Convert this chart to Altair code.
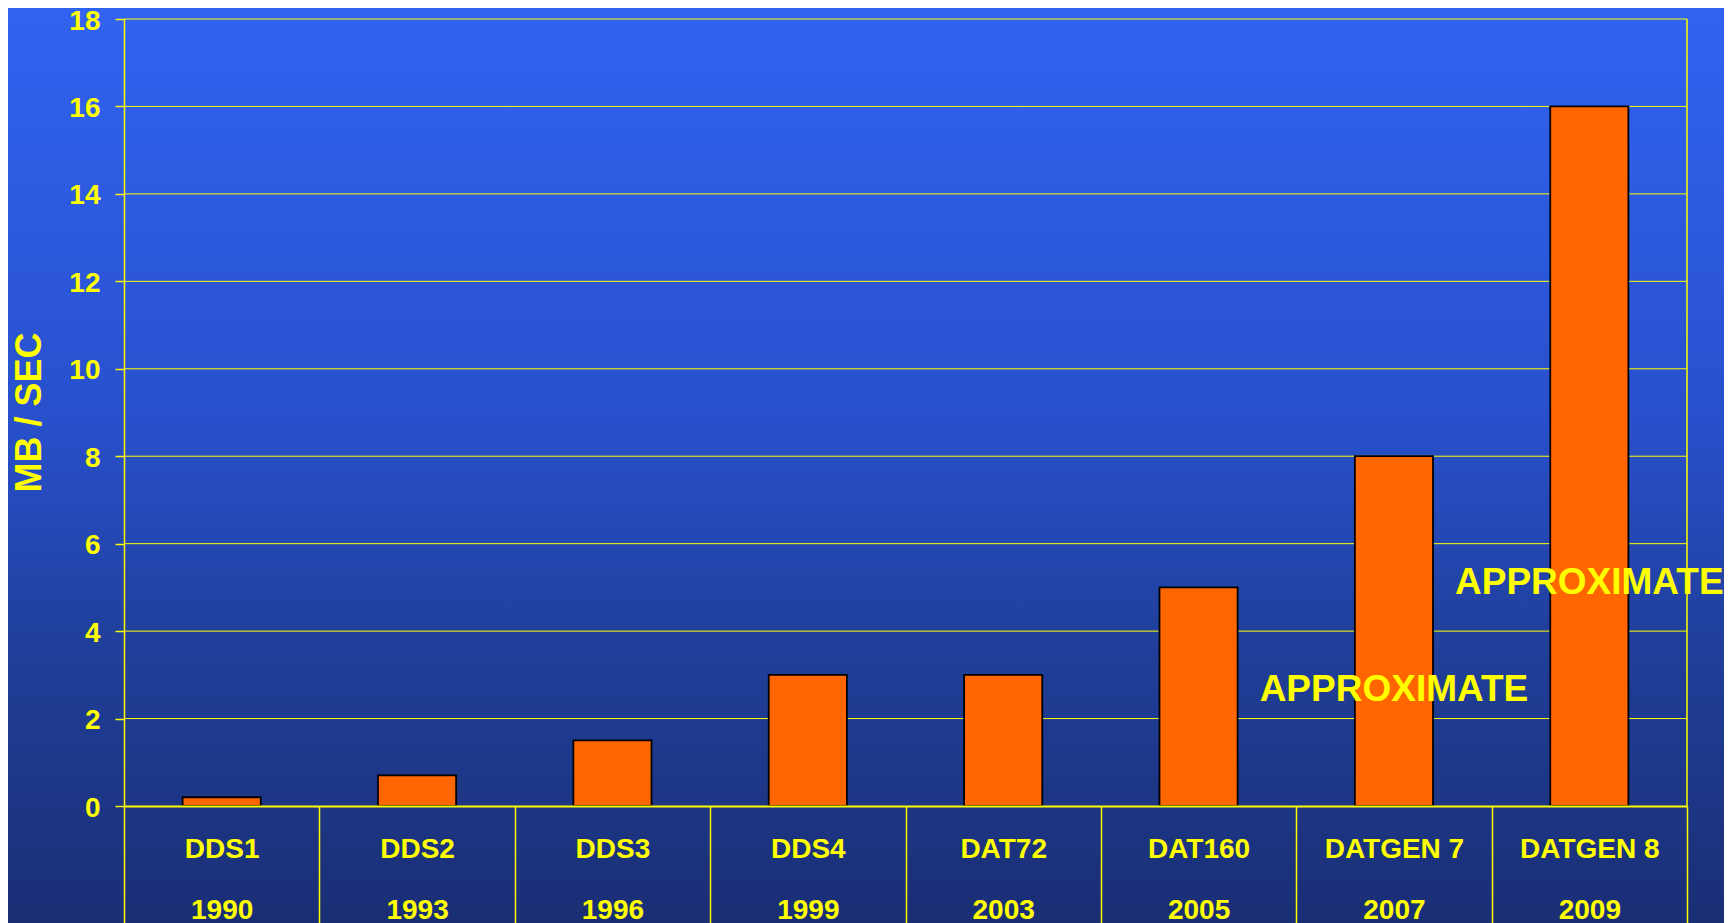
import altair as alt
import pandas as pd

# ---- data ----
names = ["DDS1", "DDS2", "DDS3", "DDS4", "DAT72", "DAT160", "DATGEN 7", "DATGEN 8"]
years = ["1990", "1993", "1996", "1999", "2003", "2005", "2007", "2009"]
speeds = [0.2, 0.7, 1.5, 3, 3, 5, 8, 16]
y_ticks = [0, 2, 4, 6, 8, 10, 12, 14, 16, 18]
note_names = ["DATGEN 7", "DATGEN 8"]
note_y = [2.65, 5.1]
note_text = ["APPROXIMATE", "APPROXIMATE"]

labels = [f"{n}|{y}" for n, y in zip(names, years)]
label_of = dict(zip(names, labels))
bars_df = pd.DataFrame({"label": labels, "speed": speeds})
notes_df = pd.DataFrame({"label": [label_of[n] for n in note_names], "speed": note_y, "text": note_text})
grid_df = pd.DataFrame({"speed": y_ticks[1:]})
one_df = pd.DataFrame({"k": [0]})

W, H = 1563, 787
PL, PT, PR, PB = 116, 11, 37, 117
FONT = "Liberation Sans"
YEL = "#FFFF00"

y_scale = alt.Scale(domain=[0, 18], nice=False, zero=True)
x_scale = alt.Scale(domain=labels, paddingInner=0, paddingOuter=0)

y_axis = alt.Axis(
    title="MB / SEC", values=y_ticks, grid=False, zindex=1,
    domainColor=YEL, domainWidth=1.5,
    tickColor=YEL, tickSize=9, tickWidth=1.5,
    labelColor=YEL, labelFont=FONT, labelFontSize=28, labelFontWeight="bold",
    labelPadding=15, labelOffset=2,
    titleColor=YEL, titleFont=FONT, titleFontSize=36, titleFontWeight="bold",
    titleAngle=270, titleX=-95, titleY=393, titleAlign="center", titleBaseline="middle",
)
x_axis = alt.Axis(
    title=None, grid=False, zindex=1,
    labelExpr="split(datum.label, '|')", labelAngle=0, labelOverlap=False,
    labelColor=YEL, labelFont=FONT, labelFontSize=28, labelFontWeight="bold",
    labelLineHeight=61, labelBaseline="top", labelPadding=-91,
    tickSize=120, tickColor=YEL, tickWidth=1.5, tickBand="extent",
    domainColor=YEL, domainWidth=2,
)

X = alt.X("label:N", sort=labels, scale=x_scale, axis=x_axis)
Y = alt.Y("speed:Q", scale=y_scale, axis=y_axis)

bg = alt.Chart(one_df).mark_rect(
    fill=alt.Gradient(
        gradient="linear", x1=0, x2=0, y1=0, y2=1,
        stops=[
            alt.GradientStop(color="#3163F1", offset=0),
            alt.GradientStop(color="#2850CC", offset=0.45),
            alt.GradientStop(color="#203F9A", offset=0.7),
            alt.GradientStop(color="#1A2E74", offset=1),
        ],
    )
).encode(x=alt.value(-PL), x2=alt.value(W + PR), y=alt.value(-PT), y2=alt.value(H + PB))

grid = alt.Chart(grid_df).mark_rule(color=YEL, strokeWidth=1).encode(y=Y)

border = alt.Chart(one_df).mark_rule(color=YEL, strokeWidth=1.5).encode(
    x=alt.value(W), y=alt.value(0), y2=alt.value(H)
)

bars = alt.Chart(bars_df).mark_bar(
    color="#FF6600", stroke="black", strokeWidth=1.8, width=alt.RelativeBandSize(0.4)
).encode(x=X, y=Y)

notes = alt.Chart(notes_df).mark_text(
    font=FONT, fontSize=37, fontWeight="bold", color=YEL, align="center", baseline="middle"
).encode(x=X, y=Y, text="text:N")

chart = alt.layer(bg, grid, border, bars, notes).properties(
    width=W, height=H, autosize="none",
    padding={"left": PL, "top": PT, "right": PR, "bottom": PB},
).configure(background="#1A2E74").configure_view(stroke=None)

chart.save("out.html", embed_options={"renderer": "svg", "actions": False})
